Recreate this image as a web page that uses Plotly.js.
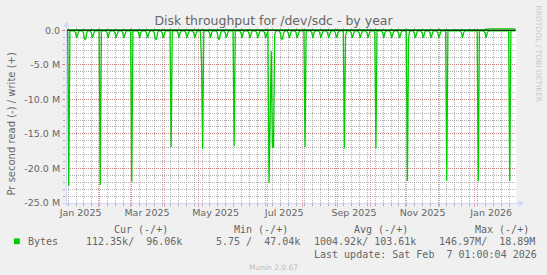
<!DOCTYPE html>
<html>
<head>
<meta charset="utf-8">
<script src="https://cdn.plot.ly/plotly-3.0.1.min.js"></script>
<style>html,body{margin:0;padding:0;background:#F0F0F0;}#chart{width:547px;height:275px;}</style>
</head>
<body>
<div id="chart"></div>
<script>
// ---- data (read values in millions of bytes per second, negative = read) ----
const readDays = [
'2025-01-03','2025-01-04','2025-01-05','2025-01-06',
'2025-01-10','2025-01-11','2025-01-12','2025-01-13','2025-01-14',
'2025-01-17','2025-01-18','2025-01-19','2025-01-20','2025-01-21','2025-01-22',
'2025-01-24','2025-01-25','2025-01-26','2025-01-27','2025-01-28',
'2025-02-01','2025-02-02','2025-02-03',
'2025-02-07','2025-02-08','2025-02-09','2025-02-10','2025-02-11',
'2025-02-14','2025-02-15','2025-02-16','2025-02-17','2025-02-18',
'2025-02-21','2025-02-22','2025-02-23','2025-02-24','2025-02-25',
'2025-03-01','2025-03-02','2025-03-03',
'2025-03-07','2025-03-08','2025-03-09','2025-03-10','2025-03-11',
'2025-03-14','2025-03-15','2025-03-16','2025-03-17','2025-03-18',
'2025-03-21','2025-03-22','2025-03-23','2025-03-24','2025-03-25','2025-03-26',
'2025-03-28','2025-03-29','2025-03-30','2025-03-31','2025-04-01',
'2025-04-05','2025-04-06','2025-04-07',
'2025-04-11','2025-04-12','2025-04-13','2025-04-14','2025-04-15',
'2025-04-18','2025-04-19','2025-04-20','2025-04-21','2025-04-22',
'2025-04-25','2025-04-26','2025-04-27','2025-04-28','2025-04-29',
'2025-05-01','2025-05-02','2025-05-03','2025-05-04','2025-05-05',
'2025-05-09','2025-05-10','2025-05-11','2025-05-12','2025-05-13',
'2025-05-16','2025-05-17','2025-05-18','2025-05-19','2025-05-20','2025-05-21',
'2025-05-23','2025-05-24','2025-05-25','2025-05-26','2025-05-27',
'2025-05-31','2025-06-01','2025-06-02',
'2025-06-06','2025-06-07','2025-06-08','2025-06-09','2025-06-10',
'2025-06-13','2025-06-14','2025-06-15','2025-06-16','2025-06-17',
'2025-06-20','2025-06-21','2025-06-22','2025-06-23','2025-06-24',
'2025-06-27','2025-06-28','2025-06-29','2025-06-30',
'2025-07-01','2025-07-02','2025-07-03','2025-07-04','2025-07-05','2025-07-06','2025-07-07','2025-07-08',
'2025-07-11','2025-07-12','2025-07-13','2025-07-14','2025-07-15','2025-07-16',
'2025-07-18','2025-07-19','2025-07-20','2025-07-21','2025-07-22',
'2025-07-25','2025-07-26','2025-07-27','2025-07-28','2025-07-29',
'2025-08-02','2025-08-03','2025-08-04',
'2025-08-08','2025-08-09','2025-08-10','2025-08-11','2025-08-12',
'2025-08-15','2025-08-16','2025-08-17','2025-08-18','2025-08-19',
'2025-08-22','2025-08-23','2025-08-24','2025-08-25','2025-08-26',
'2025-08-29','2025-08-30','2025-08-31','2025-09-01','2025-09-02',
'2025-09-06','2025-09-07','2025-09-08','2025-09-09',
'2025-09-12','2025-09-13','2025-09-14','2025-09-15','2025-09-16',
'2025-09-19','2025-09-20','2025-09-21','2025-09-22','2025-09-23',
'2025-09-26','2025-09-27','2025-09-28','2025-09-29','2025-09-30',
'2025-10-04','2025-10-05','2025-10-06',
'2025-10-10','2025-10-11','2025-10-12','2025-10-13','2025-10-14',
'2025-10-17','2025-10-18','2025-10-19','2025-10-20','2025-10-21',
'2025-10-24','2025-10-25','2025-10-26','2025-10-27','2025-10-28',
'2025-11-01','2025-11-02','2025-11-03','2025-11-04',
'2025-11-07','2025-11-08','2025-11-09','2025-11-10','2025-11-11',
'2025-11-14','2025-11-15','2025-11-16','2025-11-17','2025-11-18',
'2025-11-21','2025-11-22','2025-11-23','2025-11-24','2025-11-25',
'2025-11-28','2025-11-29','2025-11-30','2025-12-01','2025-12-02',
'2025-12-06','2025-12-07','2025-12-08',
'2025-12-19','2025-12-20','2025-12-21','2025-12-22','2025-12-23',
'2026-01-03','2026-01-04','2026-01-05',
'2026-01-09','2026-01-10','2026-01-11','2026-01-12','2026-01-13',
'2026-01-31','2026-02-01','2026-02-02',
'2026-02-06'
];
const readM = [
-0.1,-0.1,-22.5,-0.1,
-0.1,-0.35,-1.1,-0.35,-0.1,
-0.1,-0.35,-1.3,-1.3,-0.35,-0.1,
-0.1,-0.35,-1.1,-0.35,-0.1,
-0.1,-22.4,-0.1,
-0.1,-0.35,-1.1,-0.35,-0.1,
-0.1,-0.35,-1.1,-0.35,-0.1,
-0.1,-0.35,-1.1,-0.35,-0.1,
-0.1,-21.9,-0.1,
-0.1,-0.35,-1.1,-0.35,-0.1,
-0.1,-0.35,-1.1,-0.35,-0.1,
-0.1,-0.35,-1.3,-1.3,-0.35,-0.1,
-0.1,-0.35,-1.1,-0.35,-0.1,
-0.1,-16.9,-0.1,
-0.1,-0.35,-1.1,-0.35,-0.1,
-0.1,-0.35,-1.1,-0.35,-0.1,
-0.1,-0.35,-1.1,-0.35,-0.1,
-0.1,-0.1,-4.8,-17.2,-0.1,
-0.1,-0.35,-1.1,-0.35,-0.1,
-0.1,-0.35,-1.3,-1.3,-0.35,-0.1,
-0.1,-0.35,-1.1,-0.35,-0.1,
-0.1,-16.8,-0.1,
-0.1,-0.35,-1.1,-0.35,-0.1,
-0.1,-0.35,-1.1,-0.35,-0.1,
-0.1,-0.35,-1.1,-0.35,-0.1,
-0.1,-0.35,-1.1,-0.35,
-0.1,-22.1,-9.0,-3.0,-16.9,-16.9,-0.7,-0.1,
-0.1,-0.35,-1.3,-1.3,-0.35,-0.1,
-0.1,-0.35,-1.1,-0.35,-0.1,
-0.1,-0.35,-1.1,-0.35,-0.1,
-0.1,-16.9,-0.1,
-0.1,-0.35,-1.1,-0.35,-0.1,
-0.1,-0.35,-1.1,-0.35,-0.1,
-0.1,-0.35,-1.1,-0.35,-0.1,
-0.1,-0.35,-1.1,-0.35,-0.1,
-0.1,-17.1,-0.9,-0.1,
-0.1,-0.35,-1.1,-0.35,-0.1,
-0.1,-0.35,-1.1,-0.35,-0.1,
-0.1,-0.35,-1.1,-0.35,-0.1,
-0.1,-17.1,-0.1,
-0.1,-0.35,-1.1,-0.35,-0.1,
-0.1,-0.35,-1.1,-0.35,-0.1,
-0.1,-0.35,-1.1,-0.35,-0.1,
-0.1,-21.8,-1.2,-0.1,
-0.1,-0.35,-1.1,-0.35,-0.1,
-0.1,-0.35,-1.1,-0.35,-0.1,
-0.1,-0.35,-1.1,-0.35,-0.1,
-0.1,-0.35,-1.1,-0.35,-0.1,
-0.1,-21.8,-0.1,
-0.1,-0.35,-1.1,-0.35,-0.1,
-0.1,-21.8,-0.1,
-0.1,-0.35,-1.1,-0.35,-0.1,
-0.1,-21.8,-0.1,
-0.1
];
// write values (positive), millions of bytes per second
const writeDays = ['2025-01-03','2026-01-11','2026-01-12','2026-02-06'];
const writeM = [0.05, 0.05, 0.18, 0.18];

const rangeStart = '2025-01-03 01:00';
const rangeEnd = '2026-02-07 01:00';
const labelDates = ['2025-01-16','2025-03-16','2025-05-16','2025-07-16','2025-09-16','2025-11-16','2026-01-16'];
const labelText = ['Jan 2025','Mar 2025','May 2025','Jul 2025','Sep 2025','Nov 2025','Jan 2026'];
const yTickVals = [0,-5,-10,-15,-20,-25];
const yTickText = ['0.0','-5.0 M','-10.0 M','-15.0 M','-20.0 M','-25.0 M'];

const legendHeaders = ['Cur (-/+)','Min (-/+)','Avg (-/+)','Max (-/+)'];
const legendValues = ['112.35k/  96.06k','5.75 /  47.04k','1004.92k/ 103.61k','146.97M/  18.89M'];
const seriesName = 'Bytes';
const lastUpdate = 'Last update: Sat Feb  7 01:00:04 2026';

// ---- layout helpers ----
const W = 547, H = 275, L = 66, R = 31, T = 28, B = 72;
const PW = W - L - R, PH = H - T - B;
const px = v => (v - L) / PW;
const py = v => (H - B - v) / PH;
const nb = s => s.replace(/ /g, '\u00A0');

const GREEN = '#00CC00';
const FONT = '#666666';
const MGRID = 'rgba(222,79,79,0.5)';
const GRID = 'rgba(143,143,143,0.7)';
const AXIS = '#CFD6F8';

const traces = [
  {x: readDays.map(d => d + ' 12:00'), y: readM, type: 'scatter', mode: 'lines',
   line: {color: GREEN, width: 1.3}, hoverinfo: 'skip', xaxis: 'x', yaxis: 'y'},
  {x: writeDays.map(d => d + ' 12:00'), y: writeM, type: 'scatter', mode: 'lines',
   line: {color: GREEN, width: 1.3}, hoverinfo: 'skip', xaxis: 'x2', yaxis: 'y'}
];

const mono = {family: 'DejaVu Sans Mono', size: 10, color: FONT};
const annotations = [];
function ann(text, x, y, xanchor, font, extra) {
  annotations.push(Object.assign({text: nb(text), xref: 'paper', yref: 'paper', x: px(x), y: py(y),
    xanchor: xanchor, yanchor: 'middle', showarrow: false, font: font}, extra || {}));
}
ann('Pr second read (-) / write (+)', 10.5, 124, 'center', {family: 'DejaVu Sans', size: 10, color: FONT}, {textangle: -90});
ann('RRDTOOL / TOBI OETIKER', 538, 53.5, 'center', {family: 'DejaVu Sans', size: 7.5, color: '#C8C8C8'}, {textangle: 90});
const headerX = [111.7, 232, 352.4, 472.8];
const valueX = [83.7, 213.5, 312.3, 437.2];
legendHeaders.forEach((h, i) => ann(h, headerX[i], 229.2, 'left', mono));
ann(seriesName, 26.2, 241.4, 'left', mono);
legendValues.forEach((v, i) => ann(v, valueX[i], 241.4, 'left', mono));
ann(lastUpdate, 311.6, 254.3, 'left', mono);
ann('Munin 2.0.67', 273.5, 267.2, 'center', {family: 'DejaVu Sans', size: 7.5, color: '#BBBBBB'});

const shapes = [
  // zero rule
  {type: 'line', xref: 'paper', yref: 'y', x0: 0, x1: 1, y0: 0, y1: 0, line: {color: '#000000', width: 1}, layer: 'above'},
  // axes with arrows
  {type: 'line', xref: 'paper', yref: 'paper', x0: px(62), x1: px(519), y0: py(203.5), y1: py(203.5), line: {color: AXIS, width: 1}, layer: 'above'},
  {type: 'line', xref: 'paper', yref: 'paper', x0: px(66.5), x1: px(66.5), y0: py(206), y1: py(26), line: {color: AXIS, width: 1}, layer: 'above'},
  {type: 'path', xref: 'paper', yref: 'paper',
   path: `M ${px(518.5)} ${py(200.3)} L ${px(523.5)} ${py(203.5)} L ${px(518.5)} ${py(206.7)} Z`,
   fillcolor: AXIS, line: {width: 0}, layer: 'above'},
  {type: 'path', xref: 'paper', yref: 'paper',
   path: `M ${px(63.3)} ${py(26.8)} L ${px(66.5)} ${py(21.6)} L ${px(69.7)} ${py(26.8)} Z`,
   fillcolor: AXIS, line: {width: 0}, layer: 'above'},
  // legend swatch
  {type: 'rect', xref: 'paper', yref: 'paper', x0: px(14), x1: px(19.8), y0: py(244.2), y1: py(238.4),
   fillcolor: GREEN, line: {width: 0}}
];

const layout = {
  width: W, height: H,
  paper_bgcolor: '#F0F0F0', plot_bgcolor: '#FFFFFF',
  margin: {l: L, r: R, t: T, b: B, pad: 0},
  showlegend: false,
  font: {family: 'DejaVu Sans', size: 9.5, color: FONT},
  title: {text: 'Disk throughput for /dev/sdc - by year', font: {family: 'DejaVu Sans', size: 12.5, color: FONT},
          x: 0.5, xref: 'container', xanchor: 'center', y: 1 - 21 / H, yref: 'container', yanchor: 'middle'},
  xaxis: {type: 'date', range: [rangeStart, rangeEnd], tickmode: 'linear', tick0: '2025-01-01', dtick: 'M1',
          showticklabels: false, showgrid: true, gridcolor: MGRID, griddash: '1px,1px', gridwidth: 1,
          ticks: 'outside', ticklen: 3, tickcolor: MGRID, showline: false, zeroline: false, fixedrange: true,
          minor: {tick0: '2025-01-05', dtick: 7 * 86400000, showgrid: true, gridcolor: GRID, griddash: '1px,1px',
                  ticks: 'outside', ticklen: 2, tickcolor: GRID}},
  xaxis2: {type: 'date', overlaying: 'x', side: 'bottom', range: [rangeStart, rangeEnd], tickmode: 'array',
           tickvals: labelDates, ticktext: labelText, showgrid: false, zeroline: false, ticks: '', showline: false,
           tickfont: {family: 'DejaVu Sans', size: 9.5, color: FONT}, ticklabelstandoff: 2, fixedrange: true},
  yaxis: {range: [-25, 0.32], tickmode: 'array', tickvals: yTickVals, ticktext: yTickText,
          showgrid: true, gridcolor: MGRID, griddash: '1px,1px', zeroline: false, showline: false,
          ticks: 'outside', ticklen: 3, tickcolor: MGRID, tickfont: {family: 'DejaVu Sans', size: 9.5, color: FONT},
          fixedrange: true,
          minor: {tick0: 0, dtick: 1, showgrid: true, gridcolor: GRID, griddash: '1px,1px', ticks: 'outside', ticklen: 2, tickcolor: GRID}},
  annotations: annotations,
  shapes: shapes
};

Plotly.newPlot('chart', traces, layout, {staticPlot: true, displayModeBar: false});
</script>
</body>
</html>
